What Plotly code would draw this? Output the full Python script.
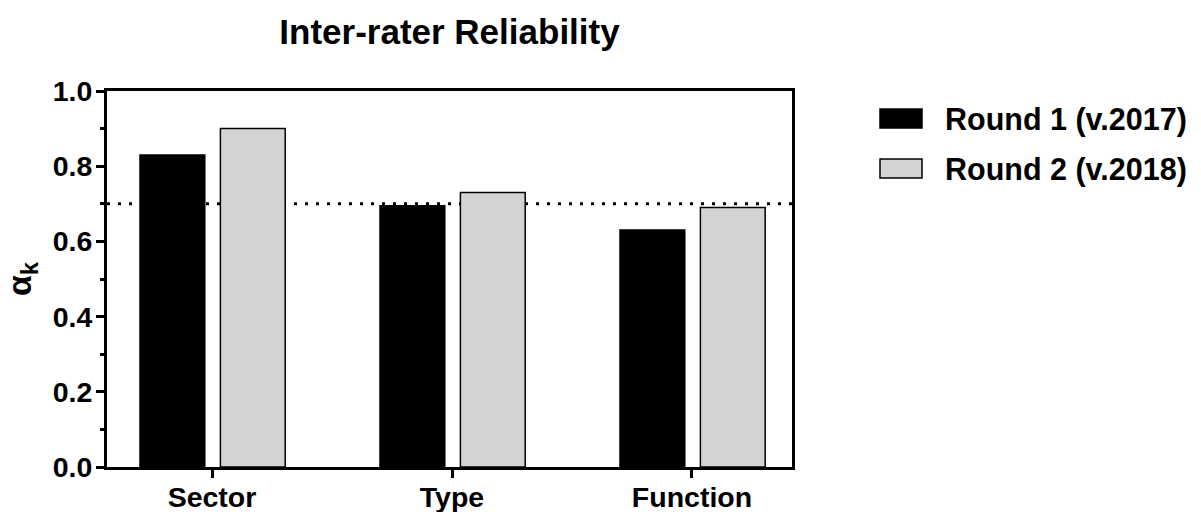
import plotly.graph_objects as go

categories = ["Sector", "Type", "Function"]
series_names = ["Round 1 (v.2017)", "Round 2 (v.2018)"]
round1 = [0.83, 0.695, 0.63]
round2 = [0.90, 0.73, 0.69]
threshold = 0.7
y_ticks = [0.0, 0.2, 0.4, 0.6, 0.8, 1.0]
y_minor = [0.1, 0.3, 0.5, 0.7, 0.9]

FONT = "Liberation Sans, Arial, sans-serif"
colors = ["#000000", "#d3d3d3"]
xs = list(range(len(categories)))

# plot area in pixels
L, R, T, B = 107, 792, 91, 467
W, H = 1201, 512
pw, ph = R - L, B - T


def px_x(x):
    return (x - L) / pw


def px_y(y):
    return (B - y) / ph


fig = go.Figure()
fig.add_trace(go.Bar(
    x=xs, y=round1, name=series_names[0],
    marker=dict(color=colors[0], line=dict(color="#000000", width=1.5)),
    width=0.27, offset=-0.30, showlegend=False,
))
fig.add_trace(go.Bar(
    x=xs, y=round2, name=series_names[1],
    marker=dict(color=colors[1], line=dict(color="#000000", width=1.5)),
    width=0.27, offset=0.035, showlegend=False,
))

fig.add_shape(type="line", xref="paper", x0=0, x1=1, yref="y", y0=threshold, y1=threshold,
              line=dict(color="#000000", width=3, dash="3px,8px"), layer="below")

# legend (drawn manually to match the large swatches)
legend_rows = [(109, 128), (159, 178)]
for (y0, y1), name, col in zip(legend_rows, series_names, colors):
    fig.add_shape(type="rect", xref="paper", yref="paper",
                  x0=px_x(880), x1=px_x(922), y0=px_y(y1), y1=px_y(y0),
                  fillcolor=col, line=dict(color="#000000", width=1.5))
    fig.add_annotation(xref="paper", yref="paper", x=px_x(943), y=px_y((y0 + y1) / 2 + 1),
                       xanchor="left", yanchor="middle", showarrow=False, text=name,
                       font=dict(family=FONT, size=30.5, color="#000000", weight="bold"))

fig.update_layout(
    width=W, height=H,
    margin=dict(l=L, r=W - R, t=T, b=H - B, autoexpand=False),
    paper_bgcolor="white", plot_bgcolor="white",
    barmode="overlay",
    title=dict(text="Inter-rater Reliability", x=(L + R) / 2 / W, xanchor="center",
               y=1 - 32 / H, yanchor="middle", automargin=False,
               font=dict(family=FONT, size=35, color="#000000", weight="bold")),
    font=dict(family=FONT, size=28.5, color="#000000", weight="bold"),
    showlegend=False,
    xaxis=dict(
        range=[-0.4375, 2.4167], tickmode="array", tickvals=xs, ticktext=categories,
        showline=True, linecolor="#000000", linewidth=3, mirror=True,
        ticks="outside", ticklen=8, tickwidth=3, tickcolor="#000000",
        ticklabelstandoff=-5,
        showgrid=False, zeroline=False, automargin=False,
        tickfont=dict(family=FONT, size=28.5, color="#000000", weight="bold"),
    ),
    yaxis=dict(
        range=[0, 1.0], tickmode="array", tickvals=y_ticks,
        ticktext=[f"{v:.1f}" for v in y_ticks],
        showline=True, linecolor="#000000", linewidth=3, mirror=True,
        ticks="outside", ticklen=8, tickwidth=3, tickcolor="#000000",
        ticklabelstandoff=-2,
        minor=dict(tickvals=y_minor, ticks="outside", ticklen=4,
                   tickwidth=3, tickcolor="#000000", showgrid=False),
        showgrid=False, zeroline=False, automargin=False,
        tickfont=dict(family=FONT, size=28.5, color="#000000", weight="bold"),
        title=dict(text="α<sub>k</sub>", standoff=12,
                   font=dict(family=FONT, size=34, color="#000000", weight="bold")),
    ),
)

fig.write_html("out.html", config={"displayModeBar": False},
               post_script="document.body.style.margin='0';")
